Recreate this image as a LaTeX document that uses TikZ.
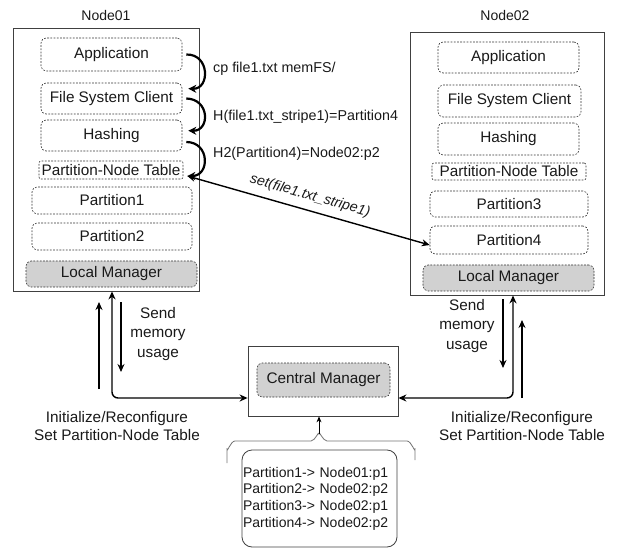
\documentclass[tikz,border=0pt]{standalone}
\usepackage{fontspec}
\setmainfont{Liberation Sans}
\usetikzlibrary{arrows.meta}
\begin{document}
\begin{tikzpicture}[x=1pt,y=-1pt,
  every node/.style={inner sep=0pt, font=\fontsize{15.3}{18}\selectfont, text=black!90},
  frame/.style={draw=black!75, line width=0.8pt},
  layer/.style={draw=black!80, line width=0.6pt, dash pattern=on 1.8pt off 1.4pt, rounded corners=5pt},
  mgr/.style={layer, fill=black!18},
  tblrow/.style={font=\fontsize{14}{16.7}\selectfont},
  lbl/.style={font=\fontsize{14.3}{16}\selectfont, anchor=west},
  link/.style={line width=1.4pt, -{Stealth[length=8pt, width=7pt]}},
  both/.style={line width=1.4pt, {Stealth[length=8pt, width=7pt]}-{Stealth[length=8pt, width=7pt]}},
  hop/.style={line width=2.2pt, -{Stealth[length=8pt, width=8pt]}},
  brace/.style={draw=black!55, line width=0.8pt}
]
\useasboundingbox (0,0) rectangle (624,548);

% ---- Node01 ----
\node[font=\fontsize{14}{16}\selectfont] (t1) at (106,15) {Node01};
\node[frame, minimum width=186pt, minimum height=263pt] (n1) at (106,159.5) {};
\node[layer, minimum width=141pt, minimum height=33pt] (app1) at (111.5,54.5) {Application};
\node[layer, minimum width=141pt, minimum height=31pt] (fsc1) at (111.5,98.5) {File System Client};
\node[layer, minimum width=141pt, minimum height=31pt] (hash1) at (111.5,135.5) {Hashing};
\node[layer, rounded corners=2pt, minimum width=144pt, minimum height=18pt] (pnt1) at (111,170) {Partition-Node Table};
\node[layer, minimum width=160pt, minimum height=27pt] (p1) at (112,200.5) {Partition1};
\node[layer, minimum width=160pt, minimum height=27pt] (p2) at (112,236.5) {Partition2};
\node[mgr, minimum width=171pt, minimum height=26pt] (lm1) at (111.5,274) {Local Manager};

% ---- Node02 ----
\node[font=\fontsize{14}{16}\selectfont] (t2) at (505,15) {Node02};
\node[frame, minimum width=194pt, minimum height=263pt] (n2) at (507,163.5) {};
\node[layer, minimum width=141pt, minimum height=31pt] (app2) at (508.5,57.5) {Application};
\node[layer, minimum width=143pt, minimum height=32pt] (fsc2) at (509.5,101) {File System Client};
\node[layer, minimum width=141pt, minimum height=32pt] (hash2) at (508.5,139) {Hashing};
\node[layer, rounded corners=2pt, minimum width=154pt, minimum height=17pt] (pnt2) at (509,171.5) {Partition-Node Table};
\node[layer, minimum width=158pt, minimum height=26pt] (p3) at (509,204) {Partition3};
\node[layer, minimum width=158pt, minimum height=28pt] (p4) at (509,240) {Partition4};
\node[mgr, minimum width=171pt, minimum height=26pt] (lm2) at (508.5,278) {Local Manager};

% ---- Central manager and its table ----
\node[frame, minimum width=150pt, minimum height=70pt] (cm) at (323,381) {};
\node[mgr, minimum width=133pt, minimum height=34pt] (cmi) at (323.5,380) {Central Manager};
\node[draw=black!75, line width=0.8pt, rounded corners=10pt, tblrow,
      text width=153pt, align=left, inner xsep=1pt, minimum height=97pt] (tbl) at (319.5,498.5)
  {Partition1-> Node01:p1\\Partition2-> Node02:p2\\Partition3-> Node02:p1\\Partition4-> Node02:p2};

% brace collecting the table entries
\coordinate (brtip) at (319,434);
\draw[brace] (227,463) -- (227,449) to[out=-90,in=180] (235,441) -- (311,441)
  to[out=0,in=90] (brtip) to[out=90,in=180] (327,441) -- (407,441)
  to[out=0,in=-90] (415,449) -- (415,460);
\draw[line width=0.8pt, -{Stealth[length=6pt, width=5pt]}] (brtip) -- (brtip |- cm.south);

% ---- request path inside Node01 ----
\draw[hop] ([xshift=4pt]app1.east) .. controls (210,54) and (210,89) .. ([xshift=6pt,yshift=-6pt]fsc1.north east);
\draw[hop] ([xshift=4pt]fsc1.east) .. controls (210,99) and (210,131) .. ([xshift=6pt,yshift=-11pt]hash1.north east);
\draw[hop] ([xshift=4pt,yshift=-6.5pt]hash1.east) .. controls (210,142) and (210,176) .. ([xshift=4pt,yshift=-6pt]pnt1.east);
\node[lbl] (l1) at (213,69) {cp file1.txt memFS/};
\node[lbl] (l2) at (213,117) {H(file1.txt\_stripe1)=Partition4};
\node[lbl] (l3) at (213,154) {H2(Partition4)=Node02:p2};

\draw[both] ([xshift=4pt,yshift=-6pt]pnt1.east) -- node[sloped, above=7pt, pos=0.49,
  font=\fontsize{14.2}{16}\selectfont\itshape] (l4) {set(file1.txt\_stripe1)} ([yshift=-5pt]p4.west);

% ---- control traffic below Node01 ----
\coordinate (u1a) at (99,389);
\coordinate (u1b) at (99,302);
\draw[link] (u1a) -- (u1b);
\coordinate (d1a) at (121,302);
\coordinate (d1b) at (121,372);
\draw[link] (d1a) -- (d1b);
\coordinate (a1) at (112,398);
\draw[both, rounded corners=6pt] (a1 |- n1.south) -- (a1) -- (a1 -| cm.west);
\node[align=center, font=\fontsize{15.3}{19.5}\selectfont] (s1) at (158,334) {Send\\memory\\usage};
\node[align=center, font=\fontsize{15.3}{18}\selectfont] (i1) at (117,426) {Initialize/Reconfigure\\Set Partition-Node Table};

% ---- control traffic below Node02 ----
\coordinate (d2a) at (503,299);
\coordinate (d2b) at (503,368);
\draw[link] (d2a) -- (d2b);
\coordinate (u2a) at (522,398);
\coordinate (u2b) at (522,320);
\draw[link] (u2a) -- (u2b);
\coordinate (a2) at (513,398);
\draw[both, rounded corners=6pt] (a2 |- n2.south) -- (a2) -- (a2 -| cm.east);
\node[align=center, font=\fontsize{15.3}{19.5}\selectfont] (s2) at (467,326) {Send\\memory\\usage};
\node[align=center, font=\fontsize{15.3}{18}\selectfont] (i2) at (522,426) {Initialize/Reconfigure\\Set Partition-Node Table};
\end{tikzpicture}
\end{document}
